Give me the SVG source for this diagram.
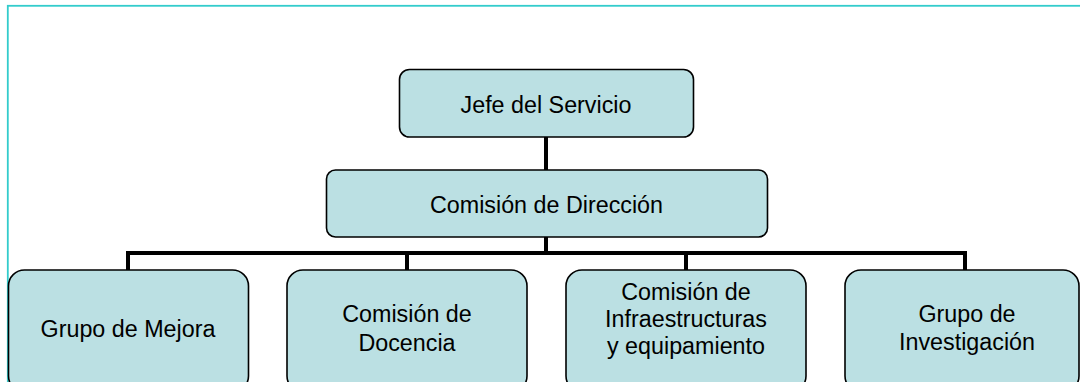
<svg xmlns="http://www.w3.org/2000/svg" width="1080" height="382" viewBox="0 0 1080 382">
<style>
.box{fill:#BBE0E3;stroke:#000;stroke-width:1.6}
.t{font-family:"Liberation Sans",Arial,sans-serif;font-size:23.3px;fill:#000;text-anchor:middle}
.c{stroke:#000;stroke-width:4;fill:none}
</style>
<rect x="0" y="0" width="1080" height="382" fill="#fff"/>
<rect x="7.8" y="5.8" width="1090" height="400" fill="none" stroke="#33CCCC" stroke-width="1.8"/>
<g id="connectors">
<line class="c" x1="546" y1="137" x2="546" y2="170"/>
<line class="c" x1="546" y1="237" x2="546" y2="253"/>
<line class="c" x1="126" y1="253" x2="967" y2="253"/>
<line class="c" x1="128" y1="251" x2="128" y2="270"/>
<line class="c" x1="407" y1="251" x2="407" y2="270"/>
<line class="c" x1="686" y1="251" x2="686" y2="270"/>
<line class="c" x1="965" y1="251" x2="965" y2="270"/>
</g>
<g id="jefe">
<rect class="box" x="399.5" y="69.5" width="294" height="67.5" rx="10"/>
<text class="t" x="546" y="113">Jefe del Servicio</text>
</g>
<g id="direccion">
<rect class="box" x="326.5" y="170" width="441" height="67" rx="9"/>
<text class="t" x="546.5" y="213">Comisión de Dirección</text>
</g>
<g id="mejora">
<rect class="box" x="8.5" y="270" width="240" height="122" rx="16"/>
<text class="t" x="128" y="337">Grupo de Mejora</text>
</g>
<g id="docencia">
<rect class="box" x="287" y="270" width="240" height="122" rx="16"/>
<text class="t" x="407" y="322">Comisión de</text>
<text class="t" x="407" y="351">Docencia</text>
</g>
<g id="infraestructuras">
<rect class="box" x="566" y="270" width="240" height="122" rx="16"/>
<text class="t" x="686" y="300">Comisión de</text>
<text class="t" x="686" y="327">Infraestructuras</text>
<text class="t" x="686" y="354">y equipamiento</text>
</g>
<g id="investigacion">
<rect class="box" x="845" y="270" width="234" height="122" rx="16"/>
<text class="t" x="967" y="322">Grupo de</text>
<text class="t" x="967" y="350">Investigación</text>
</g>
</svg>
